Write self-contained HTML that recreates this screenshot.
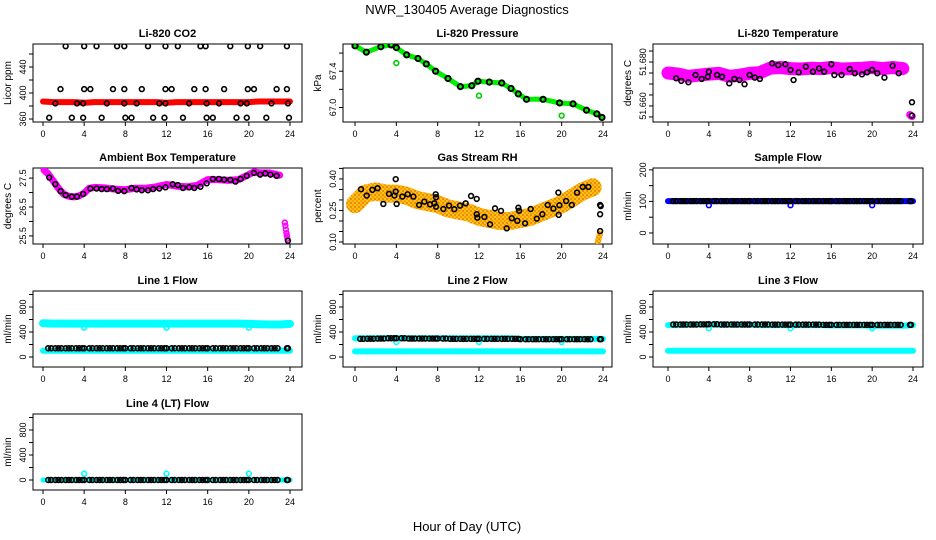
<!DOCTYPE html>
<html><head><meta charset="utf-8">
<style>
html,body{margin:0;padding:0;background:#fff;}
svg{display:block;font-family:"Liberation Sans",sans-serif;}
</style></head>
<body>
<svg id="chart" width="936" height="540" viewBox="0 0 936 540" xmlns="http://www.w3.org/2000/svg">
<defs>
<pattern id="rhpat" width="4" height="4" patternUnits="userSpaceOnUse">
<rect width="4" height="4" fill="#f7c21a"/>
<rect x="0" y="0" width="2" height="2" fill="#ff9a00"/>
<rect x="2" y="2" width="2" height="2" fill="#f08a00"/>
</pattern>
</defs>
<rect x="0" y="0" width="936" height="540" fill="#fff"/>
<text x="467" y="14" font-size="13" text-anchor="middle">NWR_130405  Average Diagnostics</text>
<text x="467" y="531" font-size="13" text-anchor="middle">Hour of Day (UTC)</text>
</svg>
<script>
// ---- data ----
const xTicks = [0,4,8,12,16,20,24];

// Li-820 CO2
const co2Times = [2.2,4.0,5.2,7.2,7.9,10.2,11.9,13.1,15.3,15.8,18.2,19.9,21.1,23.7,
 1.7,4.0,4.6,6.8,7.9,9.6,11.9,12.5,14.7,15.8,17.6,19.9,20.5,22.7,23.7,
 1.2,3.3,3.9,6.2,7.9,9.1,11.3,11.9,14.2,15.9,17.1,19.2,19.8,22.2,23.8,
 0.6,2.8,3.9,5.7,8.0,8.6,10.7,11.8,13.6,15.9,16.5,18.8,19.8,21.7,23.9];
const co2Vals = [472,472,472,472,472,472,472,472,472,472,472,472,472,472,
 406,406,406,406,406,406,406,406,406,406,406,406,406,406,406,
 384,384,384,384,384,384,384,384,384,384,384,384,384,384,384,
 362,362,362,362,362,362,362,362,362,362,362,362,362,362,362];
const co2RedTimes = [0,1,2,3,4,5,6,7,8,9,10,11,12,13,14,15,16,17,18,19,20,21,22,23,24];
const co2RedVals = [387,386,386,386,385,386,386,386,386,386,386,386,385,386,386,386,386,386,386,386,386,387,387,387,387];

// Li-820 Pressure
const presTimes = [0,1.1,2.5,3.5,4,5,6.1,6.9,7.8,9,10.2,11.3,11.9,13,14.2,15.1,15.8,16.6,18.2,19.8,21.1,22.4,23.4,23.9];
const presVals = [67.68,67.61,67.67,67.69,67.66,67.58,67.54,67.48,67.40,67.32,67.23,67.24,67.29,67.28,67.27,67.21,67.15,67.09,67.09,67.05,67.04,66.97,66.93,66.89];
const presOutTimes = [4,12,20];
const presOutVals = [67.49,67.13,66.91];

// Li-820 Temperature
const tempTimes = [0.8,1.3,2,2.7,3.3,3.9,4.0,4.8,5.3,6,6.5,7,7.5,8,8.5,9,10.2,10.8,11.5,12,12.3,12.8,13.5,14.2,14.8,15.3,16,16.3,17,17.8,18.3,19,19.5,20,20.5,21.2,22,22.6,23.9,23.9];
const tempVals = [51.6726,51.6714,51.6708,51.6741,51.6723,51.6733,51.6756,51.6741,51.6733,51.6703,51.6723,51.6718,51.6699,51.6741,51.6729,51.6723,51.6794,51.6786,51.6790,51.6764,51.6718,51.6753,51.6779,51.6756,51.6771,51.6756,51.6790,51.6741,51.6741,51.6768,51.6749,51.6744,51.6753,51.6764,51.6749,51.6729,51.6783,51.6749,51.6617,51.6556];
const tempMagTimes = [0,1,2,3,4,5,6,7,8,9,10,11,12,13,14,15,16,17,18,19,20,21,22,23];
const tempMagVals = [51.6750,51.6745,51.6735,51.6740,51.6745,51.6748,51.6735,51.6740,51.6748,51.6752,51.6772,51.6775,51.6770,51.6768,51.6772,51.6770,51.6775,51.6768,51.6770,51.6772,51.6775,51.6770,51.6775,51.6770];
const tempMagEndTimes = [23.7,23.8,23.9];
const tempMagEndVals = [51.6560,51.6555,51.6553];

// Ambient box temperature
const ambTimes = [0.6,1.2,1.7,2.2,2.8,3.3,3.9,4.6,5.2,5.7,6.2,6.8,7.3,7.9,8.6,9.1,9.6,10.2,10.7,11.3,11.9,12.6,13.1,13.6,14.2,14.7,15.3,15.9,16.5,17.1,17.6,18.2,18.7,19.2,19.8,20.5,21.1,21.6,22.1,22.7,23.8];
const ambVals = [27.52,27.29,27.05,26.91,26.86,26.86,26.95,27.14,27.14,27.12,27.12,27.14,27.06,27.05,27.16,27.11,27.08,27.08,27.12,27.14,27.18,27.29,27.26,27.16,27.18,27.16,27.20,27.32,27.47,27.47,27.45,27.44,27.38,27.47,27.58,27.68,27.62,27.66,27.62,27.58,25.33];
const ambMagTimes = [0.1,0.5,1,1.5,2,2.5,3,3.5,4,4.5,5,6,7,8,9,10,11,12,13,14,15,16,17,18,19,20,20.5,21,22,23];
const ambMagVals = [27.78,27.65,27.4,27.15,26.95,26.87,26.85,26.88,26.98,27.15,27.18,27.16,27.12,27.1,27.15,27.15,27.2,27.28,27.22,27.2,27.25,27.45,27.45,27.42,27.45,27.62,27.72,27.68,27.68,27.6];
const ambDropTimes = [23.5,23.55,23.6,23.65,23.7,23.75];
const ambDropVals = [25.96,25.85,25.72,25.6,25.5,25.4];

// Gas stream RH
const rhTimes = [0.58,1.13,1.68,2.19,2.74,3.29,3.81,3.94,3.94,4.03,4.58,5.10,5.65,6.20,6.71,7.26,7.68,7.81,7.84,7.84,8.55,9.10,9.61,10.16,10.71,11.23,11.78,11.78,11.84,12.52,13.07,13.55,14.13,14.68,15.17,15.71,15.81,15.88,16.46,17.0,17.59,18.13,18.65,19.2,19.68,19.71,19.78,20.43,20.98,21.49,22.04,22.58,23.72,23.72,23.78,23.72];
const rhVals = [0.351,0.321,0.348,0.356,0.281,0.329,0.321,0.340,0.399,0.281,0.316,0.327,0.316,0.276,0.292,0.279,0.284,0.327,0.313,0.268,0.257,0.273,0.256,0.273,0.284,0.319,0.305,0.232,0.216,0.219,0.184,0.260,0.248,0.165,0.213,0.201,0.263,0.249,0.189,0.257,0.211,0.232,0.276,0.259,0.335,0.229,0.275,0.295,0.276,0.335,0.362,0.362,0.232,0.276,0.271,0.152];
const rhBandTimes = [0,1,2,3,4,5,6,7,8,9,10,11,12,13,14,15,16,17,18,19,20,21,22,23];
const rhBandVals = [0.28,0.33,0.34,0.33,0.33,0.32,0.30,0.29,0.28,0.26,0.25,0.24,0.22,0.21,0.20,0.20,0.21,0.22,0.24,0.26,0.28,0.31,0.34,0.36];
const rhBandEndTimes = [23.5,23.6,23.7];
const rhBandEndVals = [0.10,0.12,0.14];

// flows: hourly levels (hour 0..24)
const hours = [0,1,2,3,4,5,6,7,8,9,10,11,12,13,14,15,16,17,18,19,20,21,22,23,24];
const sampleBlue = [101,101,101,101,101,101,101,101,101,101,101,101,101,101,101,101,101,101,101,101,101,101,101,101,101];
const sampleBlack = [101,101,101,101,101,101,101,101,101,101,101,101,101,101,101,101,101,101,101,101,101,101,101,101,101];
const sampleDipTimes = [4,12,20];
const sampleDipVals = [88,88,88];

const line1CyanHi = [540,535,535,535,535,535,535,535,535,535,535,535,535,535,535,535,535,535,535,535,530,525,520,520,530];
const line1CyanLo = [100,100,100,100,100,100,100,100,100,100,100,100,100,100,100,100,100,100,100,100,100,100,100,100,100];
const line1Black = [140,140,140,140,140,140,140,140,140,140,140,140,140,140,140,140,140,140,140,140,140,140,140,140,140];
const line2CyanHi = [300,300,300,300,300,300,300,300,300,300,300,300,300,300,300,300,290,290,290,290,290,290,290,290,290];
const line2CyanLo = [90,90,90,90,90,90,90,90,90,90,90,90,90,90,90,90,90,90,90,90,90,90,90,90,90];
const line2Black = [290,292,295,300,300,295,295,295,295,290,290,290,290,290,290,290,285,285,285,285,285,285,285,285,285];
const line3CyanHi = [510,510,515,520,520,515,515,515,515,510,510,510,510,510,510,510,505,505,505,505,500,500,500,500,510];
const line3CyanLo = [100,100,100,100,100,100,100,100,100,100,100,100,100,100,100,100,100,100,100,100,100,100,100,100,100];
const line3Black = [520,520,520,522,525,520,520,520,520,520,518,518,518,518,518,515,515,515,515,515,515,515,515,515,515];
const line4Cyan = [0,0,0,0,0,0,0,0,0,0,0,0,0,0,0,0,0,0,0,0,0,0,0,0,0];
const line4Black = [0,0,0,0,0,0,0,0,0,0,0,0,0,0,0,0,0,0,0,0,0,0,0,0,0];
const line4OutTimes = [4,12,20];
const line4OutVals = [100,100,100];
const cyanDipTimes = [4,12,20];
const line1DipVals = [470,470,470];
const line2DipVals = [240,240,240];
const line3DipVals = [460,460,460];
const blackTimes = [0.5,0.8,1.2,1.5,1.8,2.2,2.5,2.8,3.2,3.5,3.8,4.0,4.5,4.8,5.2,5.5,5.8,6.2,6.5,6.8,7.2,7.5,7.8,8.0,8.5,8.8,9.2,9.5,9.8,10.2,10.5,10.8,11.2,11.5,11.8,12.0,12.5,12.8,13.2,13.5,13.8,14.2,14.5,14.8,15.2,15.5,15.8,16.0,16.5,16.8,17.2,17.5,17.8,18.2,18.5,18.8,19.2,19.5,19.8,20.0,20.5,20.8,21.2,21.5,21.8,22.2,22.5,22.8,23.7,23.8];

// ---- layout ----
const NS = "http://www.w3.org/2000/svg";
const svg = document.getElementById('chart');
const cols = [{bx0:33,bx1:302,x0:43,x24:290,ylab:11},{bx0:343,bx1:612,x0:355,x24:603,ylab:321},{bx0:653,bx1:923,x0:668,x24:913,ylab:631}];
const rows = [{t:44,b:122},{t:168,b:244},{t:291,b:367},{t:414,b:490}];

function mk(tag, attrs, parent){
  const e = document.createElementNS(NS, tag);
  for (const k in attrs) e.setAttribute(k, attrs[k]);
  (parent||svg).appendChild(e);
  return e;
}

function makePanel(name, title, ylabel, col, row, vTop, vBot, ticks, labels){
  const c = cols[col], r = rows[row];
  const g = mk('g', {});
  
  
  const sx = h => c.x0 + (c.x24 - c.x0) * h / 24;
  const sy = v => r.t + (r.b - r.t) * (vTop - v) / (vTop - vBot);
  const box = mk('rect', {x:c.bx0, y:r.t, width:c.bx1-c.bx0, height:r.b-r.t, fill:'none', stroke:'#000', 'stroke-width':1}, g);
  
  
  const t = mk('text', {x:(c.bx0+c.bx1)/2, y:r.t-7, 'font-size':11, 'font-weight':'bold', 'text-anchor':'middle'}, g);
  t.textContent = title;
  
  
  const yl = mk('text', {x:c.ylab, y:(r.t+r.b)/2, 'font-size':10, 'text-anchor':'middle', transform:`rotate(-90 ${c.ylab} ${(r.t+r.b)/2})`}, g);
  yl.textContent = ylabel;
  
  
  const xa = mk('g', {}, g);
  
  
  mk('line', {x1:sx(0), x2:sx(24), y1:r.b, y2:r.b, stroke:'#000'}, xa);
  xTicks.forEach(h => {
    mk('line', {x1:sx(h), x2:sx(h), y1:r.b, y2:r.b+4, stroke:'#000'}, xa);
    const lt = mk('text', {x:sx(h), y:r.b+15, 'font-size':9, 'text-anchor':'middle'}, xa);
    lt.textContent = h;
  });
  const ya = mk('g', {}, g);
  
  
  ticks.forEach(v => mk('line', {x1:c.bx0-4, x2:c.bx0, y1:sy(v), y2:sy(v), stroke:'#000'}, ya));
  labels.forEach(l => {
    const lx = c.bx0 - 7, ly = sy(l.v);
    const lt = mk('text', {x:lx, y:ly, 'font-size':9, 'text-anchor':'middle', transform:`rotate(-90 ${lx} ${ly})`}, ya);
    lt.textContent = l.t;
  });
  const clip = 'clip-' + name;
  const cp = mk('clipPath', {id:clip}, g);
  mk('rect', {x:c.bx0, y:r.t, width:c.bx1-c.bx0, height:r.b-r.t}, cp);
  const plot = mk('g', {'clip-path':`url(#${clip})`}, g);
  return {sx, sy, g:plot};
}

function pts(P, name, times, vals, color, r, sw){
  const grp = mk('g', {}, P.g);
  
  
  times.forEach((t, i) => {
    const c = mk('circle', {cx:P.sx(t), cy:P.sy(vals[i]), r:r||2.4, fill:'none', stroke:color, 'stroke-width':sw||1.6}, grp);
    
  });
}
function band(P, name, times, vals, color, w){
  const d = times.map((t,i)=>(i?'L':'M')+P.sx(t).toFixed(1)+' '+P.sy(vals[i]).toFixed(1)).join(' ');
  const p = mk('path', {d, fill:'none', stroke:color, 'stroke-width':w, 'stroke-linecap':'round', 'stroke-linejoin':'round'}, P.g);
  
  
}
function hourly(arr, times){ return times.map(t => arr[Math.min(24, Math.floor(t))]); }

const L = (v,t) => ({v, t: t===undefined ? String(v) : t});

let P = makePanel('co2', 'Li-820 CO2', 'Licor ppm', 0, 0, 475.4, 355.4, [360,380,400,420,440,460], [L(360),L(400),L(440)]);
band(P, 'co2-red-series', co2RedTimes, co2RedVals, '#ff0000', 6);
pts(P, 'co2-black-series', co2Times, co2Vals, '#000');

P = makePanel('pressure', 'Li-820 Pressure', 'kPa', 1, 0, 67.7, 66.84, [67.0,67.2,67.4,67.6], [L(67.0,'67.0'),L(67.4,'67.4')]);
band(P, 'pressure-green-series', presTimes, presVals, '#00ee00', 5);
pts(P, 'pressure-green-outliers', presOutTimes, presOutVals, '#00cc00');
pts(P, 'pressure-black-series', presTimes, presVals, '#000', 2.6, 2);

P = makePanel('licor-temp', 'Li-820 Temperature', 'degrees C', 2, 0, 51.6882, 51.6527, [51.655,51.66,51.665,51.67,51.675,51.68,51.685], [L(51.66,'51.660'),L(51.68,'51.680')]);
band(P, 'licor-temp-magenta-series', tempMagTimes, tempMagVals, '#ff00ff', 13);
pts(P, 'licor-temp-magenta-end', tempMagEndTimes, tempMagEndVals, '#ff00ff', 3);
pts(P, 'licor-temp-black-series', tempTimes, tempVals, '#000');

P = makePanel('ambient-temp', 'Ambient Box Temperature', 'degrees C', 0, 1, 27.85, 25.22, [25.5,26,26.5,27,27.5], [L(25.5),L(26.5),L(27.5)]);
band(P, 'ambient-magenta-series', ambMagTimes, ambMagVals, '#ff00ff', 7);
pts(P, 'ambient-magenta-drop', ambDropTimes, ambDropVals, '#ff00ff', 2.4);
pts(P, 'ambient-black-series', ambTimes, ambVals, '#000');

P = makePanel('gas-rh', 'Gas Stream RH', 'percent', 1, 1, 0.452, 0.0905, [0.10,0.15,0.20,0.25,0.30,0.35,0.40,0.45], [L(0.10,'0.10'),L(0.25,'0.25'),L(0.40,'0.40')]);
band(P, 'gas-rh-orange-series', rhBandTimes, rhBandVals, 'url(#rhpat)', 18);
band(P, 'gas-rh-orange-end', rhBandEndTimes, rhBandEndVals, 'url(#rhpat)', 6);
pts(P, 'gas-rh-black-series', rhTimes, rhVals, '#000');

P = makePanel('sample-flow', 'Sample Flow', 'ml/min', 2, 1, 206, -35, [0,50,100,150,200], [L(0),L(100),L(200)]);
band(P, 'sample-flow-blue-series', hours, sampleBlue, '#0000ff', 6);
pts(P, 'sample-flow-blue-dips', sampleDipTimes, sampleDipVals, '#0000ff');
pts(P, 'sample-flow-black-series', blackTimes, hourly(sampleBlack, blackTimes), '#000');

const flowTicks = [0,200,400,600,800,1000], flowLabels = [L(0),L(400),L(800)];
P = makePanel('line1-flow', 'Line 1 Flow', 'ml/min', 0, 2, 1056, -160, flowTicks, flowLabels);
band(P, 'line1-cyan-high', hours, line1CyanHi, '#00ffff', 8);
band(P, 'line1-cyan-low', hours, line1CyanLo, '#00ffff', 6);
pts(P, 'line1-cyan-dips', cyanDipTimes, line1DipVals, '#00ffff');
pts(P, 'line1-black-series', blackTimes, hourly(line1Black, blackTimes), '#000');

P = makePanel('line2-flow', 'Line 2 Flow', 'ml/min', 1, 2, 1056, -160, flowTicks, flowLabels);
band(P, 'line2-cyan-high', hours, line2CyanHi, '#00ffff', 6);
band(P, 'line2-cyan-low', hours, line2CyanLo, '#00ffff', 6);
pts(P, 'line2-cyan-dips', cyanDipTimes, line2DipVals, '#00ffff');
pts(P, 'line2-black-series', blackTimes, hourly(line2Black, blackTimes), '#000');

P = makePanel('line3-flow', 'Line 3 Flow', 'ml/min', 2, 2, 1056, -160, flowTicks, flowLabels);
band(P, 'line3-cyan-high', hours, line3CyanHi, '#00ffff', 6);
band(P, 'line3-cyan-low', hours, line3CyanLo, '#00ffff', 6);
pts(P, 'line3-cyan-dips', cyanDipTimes, line3DipVals, '#00ffff');
pts(P, 'line3-black-series', blackTimes, hourly(line3Black, blackTimes), '#000');

P = makePanel('line4-flow', 'Line 4 (LT) Flow', 'ml/min', 0, 3, 1056, -160, flowTicks, flowLabels);
band(P, 'line4-cyan-series', hours, line4Cyan, '#00ffff', 5);
pts(P, 'line4-cyan-outliers', line4OutTimes, line4OutVals, '#00ffff');
pts(P, 'line4-black-series', blackTimes, hourly(line4Black, blackTimes), '#000');
</script>
</body></html>
